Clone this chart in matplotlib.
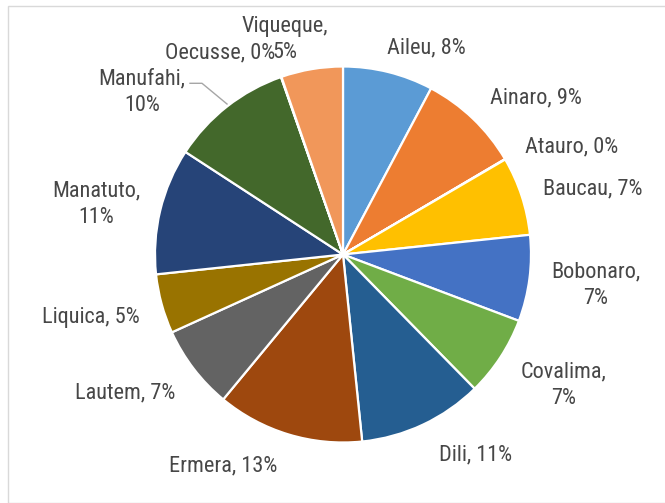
import matplotlib
matplotlib.use("Agg")
import matplotlib.pyplot as plt
from matplotlib.patches import Rectangle
from matplotlib.lines import Line2D

names = ["Aileu", "Ainaro", "Atauro", "Baucau", "Bobonaro", "Covalima", "Dili",
         "Ermera", "Lautem", "Liquica", "Manatuto", "Manufahi", "Oecusse", "Viqueque"]
shares = [7.75, 8.75, 0.04, 6.75, 7.4, 6.9, 10.7, 12.6, 7.2, 5.1, 10.85, 10.45, 0.04, 5.3]
colors = ["#5B9BD5", "#ED7D31", "#A5A5A5", "#FFC000", "#4472C4", "#70AD47", "#255E91",
          "#9E480E", "#636363", "#997300", "#264478", "#43682B", "#7CAFDD", "#F1975A"]

W, H = 665, 503
fig = plt.figure(figsize=(W / 100, H / 100), dpi=100)
fig.patch.set_facecolor("white")

# outer chart border
fig.add_artist(Rectangle((8 / W, 0), 1.2, 1 - 5.5 / H, transform=fig.transFigure,
                         fill=False, edgecolor="#D9D9D9", linewidth=1.0))

cx, cy, r = 343, 254.5, 188
ax = fig.add_axes([(cx - r) / W, (H - cy - r) / H, 2 * r / W, 2 * r / H])
total = sum(shares)
ax.pie(shares, colors=colors, startangle=90, counterclock=False, radius=1,
       wedgeprops=dict(edgecolor="white", linewidth=1.6))
ax.set_xlim(-1, 1)
ax.set_ylim(-1, 1)
ax.set_aspect("equal")
ax.axis("off")

fam = ["Liberation Sans Narrow", "Roboto Condensed", "Liberation Sans", "DejaVu Sans"]
tc = "#474747"
fs = 16

def pix(x, y):
    return x / W, 1 - y / H

# label layout: (ha, x, baseline y, two-line)
layout = {
    "Aileu": ("left", 387, 53.3, False),
    "Ainaro": ("left", 490, 103.3, False),
    "Atauro": ("left", 525, 152.3, False),
    "Baucau": ("left", 543, 194.3, False),
    "Bobonaro": ("center", 596, 277.7, True),
    "Covalima": ("center", 564, 377.7, True),
    "Dili": ("left", 439, 460, False),
    "Ermera": ("left", 169, 471.7, False),
    "Lautem": ("right", 175, 398.3, False),
    "Liquica": ("right", 140, 322.7, False),
    "Manatuto": ("center", 96, 196, True),
    "Manufahi": ("center", 142, 84.3, True),
    "Oecusse": ("right", 275, 58.3, False),
    "Viqueque": ("center", 285, 31.7, True),
}
lsp = 26.8
for n, v in zip(names, shares):
    pct = f"{round(v / total * 100):d}%"
    ha, x, y, two = layout[n]
    if two:
        lines = [n + ",", pct]
    else:
        lines = [f"{n}, {pct}"]
    for i, s in enumerate(lines):
        fx, fy = pix(x, y + i * lsp)
        fig.text(fx, fy, s, ha=ha, va="baseline", fontsize=fs, color=tc, family=fam)

# leader line for Manufahi
lx = [190 / W, 202 / W, 227 / W]
ly = [1 - 83.3 / H, 1 - 83.3 / H, 1 - 104 / H]
fig.add_artist(Line2D(lx, ly, transform=fig.transFigure, color="#A6A6A6", linewidth=1.0))

fig.savefig("out.png", dpi=100, facecolor="white")
